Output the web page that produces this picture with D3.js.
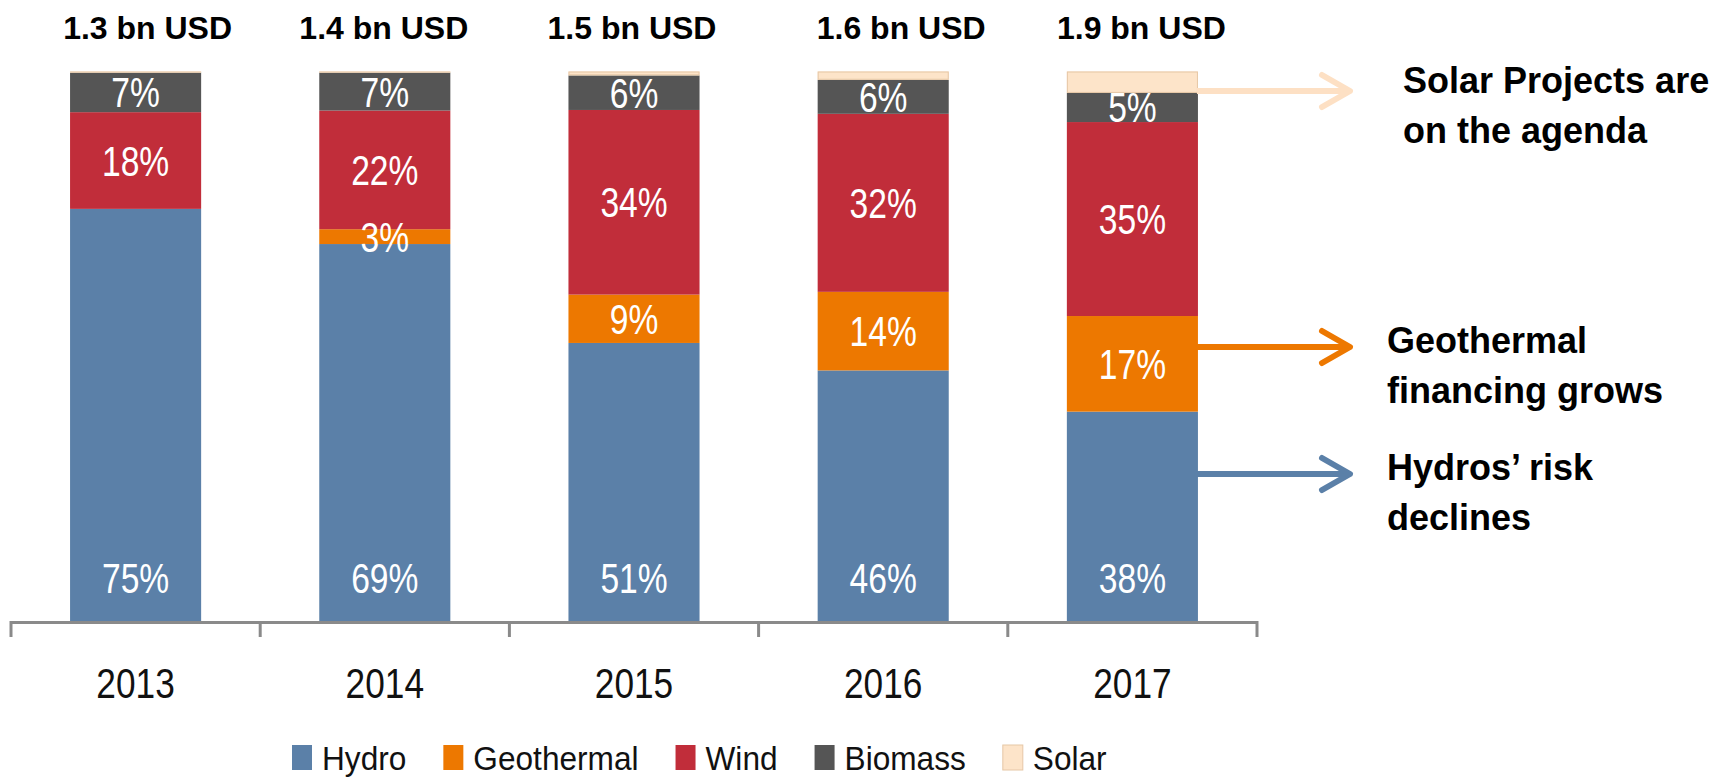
<!DOCTYPE html>
<html>
<head>
<meta charset="utf-8">
<script src="https://cdn.jsdelivr.net/npm/d3@7"></script>
<style>
  body { margin: 0; background: #fff; }
  text { font-family: "Liberation Sans", Arial, sans-serif; }
</style>
</head>
<body>
<script>
const width = 1715;
const height = 777;

// values (share of financing, %)
const years = ['2013', '2014', '2015', '2016', '2017'];
const totals = ['1.3 bn USD', '1.4 bn USD', '1.5 bn USD', '1.6 bn USD', '1.9 bn USD'];
const hydro = [75.0, 68.6, 50.6, 45.6, 38.1];
const geothermal = [0, 2.7, 8.8, 14.3, 17.4];
const wind = [17.6, 21.6, 33.6, 32.4, 35.3];
const biomass = [7.2, 6.9, 6.3, 6.2, 5.3];
const solar = [0.2, 0.2, 0.7, 1.5, 3.9];
const seriesNames = ['Hydro', 'Geothermal', 'Wind', 'Biomass', 'Solar'];
const seriesColors = ['#5b80a8', '#ed7800', '#c12d3a', '#555555', '#fde4c9'];

const noteLines = [
  ['Solar Projects are', 'on the agenda'],
  ['Geothermal', 'financing grows'],
  ['Hydros\u2019 risk', 'declines']
];
const noteValues = [96.4, 49.8, 26.7];
const noteColors = ['#fde0c4', '#ed7800', '#5b80a8'];

const table = years.map((year, i) => ({
  year,
  Hydro: hydro[i],
  Geothermal: geothermal[i],
  Wind: wind[i],
  Biomass: biomass[i],
  Solar: solar[i]
}));

const svg = d3.select('body').append('svg')
  .attr('width', width)
  .attr('height', height);

const x = d3.scaleBand()
  .domain(years)
  .range([11, 1257])
  .paddingInner(0.474)
  .paddingOuter(0.237);

const y = d3.scaleLinear()
  .domain([0, 100])
  .range([621, 71.5]);

const color = d3.scaleOrdinal().domain(seriesNames).range(seriesColors);

const stacked = d3.stack().keys(seriesNames)(table);

// squeezed text, the source font is narrow
function putText(g, tx, ty, str, size, sx, opts = {}) {
  return g.append('text')
    .attr('transform', `translate(${tx},${ty}) scale(${sx},1)`)
    .attr('text-anchor', opts.anchor || 'middle')
    .attr('font-size', size)
    .attr('font-weight', opts.bold ? 'bold' : null)
    .attr('fill', opts.fill || '#000')
    .text(str);
}

// bars
const layer = svg.append('g').selectAll('g')
  .data(stacked)
  .enter().append('g')
    .attr('fill', d => color(d.key));

layer.selectAll('rect')
  .data(d => d)
  .enter().append('rect')
    .attr('x', d => x(d.data.year))
    .attr('y', d => y(d[1]))
    .attr('width', x.bandwidth())
    .attr('height', d => y(d[0]) - y(d[1]));

svg.selectAll('.solar-edge')
  .data(stacked[4])
  .enter().append('rect')
    .attr('class', 'solar-edge')
    .attr('x', d => x(d.data.year) + 0.5)
    .attr('y', d => y(d[1]) + 0.5)
    .attr('width', x.bandwidth() - 1)
    .attr('height', d => Math.max(0, y(d[0]) - y(d[1]) - 1))
    .attr('fill', 'none')
    .attr('stroke', '#e6c7a6')
    .attr('stroke-width', 1);

// segment labels
const labels = svg.append('g');
stacked.forEach(s => {
  if (s.key === 'Solar') { return; }
  s.forEach(d => {
    const v = d[1] - d[0];
    if (v <= 0) { return; }
    const cx = x(d.data.year) + x.bandwidth() / 2;
    // hydro labels sit at the bar base, the rest in the middle
    const ty = s.key === 'Hydro' ? y(0) - 28 : (y(d[0]) + y(d[1])) / 2 + 15;
    putText(labels, cx, ty, d3.format('.0f')(v) + '%', 42, 0.8, { fill: '#fff' });
  });
});

// totals above bars (hand placed text boxes, not quite centred)
const tops = svg.append('g');
const topShift = [12, -1, -2, 18, 9];
years.forEach((year, i) => {
  putText(tops, x(year) + x.bandwidth() / 2 + topShift[i], 39, totals[i], 32, 1, { bold: true });
});

// category axis with ticks between the bars
const axis = svg.append('g').attr('stroke', '#8a8a8a').attr('stroke-width', 3);
const x0 = x.range()[0];
const x1 = x.range()[1];
axis.append('line')
  .attr('x1', x0).attr('x2', x1)
  .attr('y1', y(0) + 1.5).attr('y2', y(0) + 1.5);
d3.range(years.length + 1).forEach(i => {
  const tx = x0 + i * x.step();
  axis.append('line')
    .attr('x1', tx).attr('x2', tx)
    .attr('y1', y(0)).attr('y2', y(0) + 16);
});

const yearLabels = svg.append('g');
years.forEach(year => {
  putText(yearLabels, x(year) + x.bandwidth() / 2, 698, year, 42, 0.84, { fill: '#111' });
});

// legend
const legend = svg.append('g');
let lx = 292;
seriesNames.forEach((name, i) => {
  legend.append('rect')
    .attr('x', lx).attr('y', 745)
    .attr('width', 20).attr('height', 25)
    .attr('fill', seriesColors[i])
    .attr('stroke', name === 'Solar' ? '#e6c7a6' : 'none');
  const t = putText(legend, lx + 30, 770, name, 34, 0.93, { anchor: 'start', fill: '#111' });
  lx += 30 + t.node().getComputedTextLength() * 0.93 + 37;
});

// arrows and comments on the right
const notes = svg.append('g');
const arrowStart = x('2017') + x.bandwidth() - 1;
const arrowTip = 1350;
noteValues.forEach((v, i) => {
  const ay = Math.round(y(v));
  const g = notes.append('g')
    .attr('stroke', noteColors[i])
    .attr('stroke-width', 6)
    .attr('fill', 'none')
    .attr('stroke-linecap', 'round')
    .attr('stroke-linejoin', 'round');
  g.append('line')
    .attr('x1', arrowStart).attr('x2', arrowTip - 2)
    .attr('y1', ay).attr('y2', ay)
    .attr('stroke-linecap', 'butt');
  g.append('polyline')
    .attr('points', `${arrowTip - 28},${ay - 16} ${arrowTip},${ay} ${arrowTip - 28},${ay + 16}`);

  const tx = i === 0 ? 1403 : 1387;
  const base = i === 0 ? ay + 2 : ay + 6;
  noteLines[i].forEach((line, k) => {
    putText(notes, tx, base + k * 50, line, 36, 1, { anchor: 'start', bold: true });
  });
});
</script>
</body>
</html>
